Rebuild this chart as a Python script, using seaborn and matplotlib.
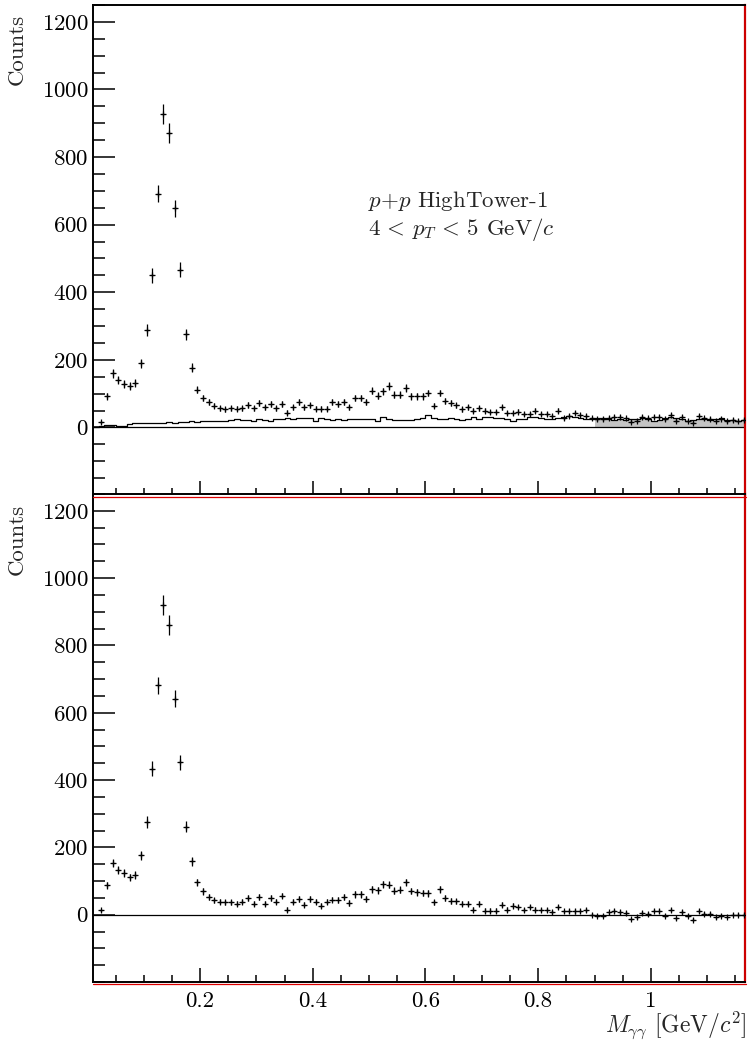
import numpy as np
import pandas as pd
import seaborn as sns
import matplotlib
matplotlib.use("Agg")
import matplotlib.pyplot as plt
from matplotlib.ticker import MultipleLocator, FixedLocator, FixedFormatter
from matplotlib.lines import Line2D

# ---------------- data ----------------
bin_first_lo = 0.02          # lower edge of first data bin (bin centre 0.025)
bin_width = 0.01
bkg_first_lo = 0.01          # lower edge of first background bin

# same-event counts (top panel), bins centred 0.025 ... 1.165
counts_raw = [15, 92, 160, 140, 129, 122, 132, 190, 288, 450,
              692, 928, 870, 648, 467, 276, 176, 112, 87, 74,
              64, 57, 54, 57, 55, 57, 67, 57, 72, 60,
              69, 57, 70, 44, 59, 74, 59, 65, 55, 55,
              55, 74, 70, 74, 60, 87, 87, 75, 109, 94,
              107, 122, 97, 97, 117, 92, 92, 92, 102, 64,
              102, 77, 72, 65, 54, 60, 49, 57, 49, 45,
              45, 59, 42, 42, 47, 39, 40, 50, 40, 40,
              34, 49, 27, 34, 42, 37, 34, 27, 24, 25,
              28, 30, 30, 27, 17, 20, 30, 27, 30, 30,
              24, 36, 20, 31, 20, 14, 33, 27, 26, 20,
              26, 18, 22, 20, 23]

# background-subtracted counts (bottom panel)
counts_sub = [13, 87, 154, 132, 124, 111, 118, 176, 275, 434,
              681, 920, 860, 642, 453, 261, 159, 96, 69, 53,
              43, 39, 37, 37, 33, 39, 50, 33, 53, 33,
              50, 38, 57, 15, 38, 47, 30, 47, 38, 27,
              38, 45, 43, 53, 35, 60, 60, 47, 76, 72,
              91, 89, 71, 74, 96, 71, 66, 64, 64, 37,
              76, 50, 40, 40, 33, 33, 15, 33, 12, 12,
              12, 30, 15, 27, 23, 15, 23, 15, 15, 15,
              9, 23, 10, 10, 10, 10, 13, 0, -3, -3,
              7, 10, 8, 5, -13, -7, 5, 2, 12, 10,
              -3, 15, -10, 7, -3, -15, 12, 3, 3, -7,
              -3, -7, 0, 0, 0]

# mixed-event background histogram (top panel), bins 0.01-0.02 ... 1.16-1.17
background = [2, 5, 7, 6, 4, 4, 10, 12, 13, 13,
              14, 14, 13, 15, 14, 15, 17, 18, 17, 18,
              19, 20, 19, 18, 22, 24, 21, 23, 20, 25,
              22, 20, 26, 25, 28, 26, 28, 29, 27, 20,
              27, 26, 22, 25, 21, 24, 26, 25, 25, 26,
              18, 30, 24, 22, 22, 22, 23, 26, 27, 36,
              28, 24, 25, 29, 25, 23, 26, 30, 26, 30,
              31, 29, 27, 24, 18, 24, 25, 30, 32, 28,
              26, 25, 28, 32, 33, 30, 28, 26, 24, 27,
              27, 25, 22, 24, 23, 24, 25, 27, 26, 19,
              22, 28, 30, 27, 25, 18, 22, 24, 25, 23,
              24, 29, 22, 22, 20, 23]

norm_region_lo = 0.9

y_ticks = [0, 200, 400, 600, 800, 1000, 1200]
x_ticks = [0.2, 0.4, 0.6, 0.8, 1.0]
x_tick_labels = ["0.2", "0.4", "0.6", "0.8", "1"]

# ---------------- derived tables ----------------
n_pts = len(counts_raw)
centers = np.round(bin_first_lo + bin_width * (np.arange(n_pts) + 0.5), 4)
df_pts = pd.DataFrame({"mass": centers,
                       "raw": counts_raw,
                       "sub": counts_sub})
df_pts["err_raw"] = np.sqrt(np.abs(df_pts["raw"]))
df_pts["err_sub"] = np.sqrt(np.abs(df_pts["raw"]))

n_bkg = len(background)
bkg_edges = np.round(bkg_first_lo + bin_width * np.arange(n_bkg + 1), 4)
bkg_centers = 0.5 * (bkg_edges[:-1] + bkg_edges[1:])
df_bkg = pd.DataFrame({"mass": bkg_centers, "bkg": background})
all_edges = [float(e) for e in bkg_edges]
norm_edges = [float(e) for e in bkg_edges if e >= norm_region_lo - 1e-9]

# ---------------- style ----------------
sns.set_theme(style="ticks")
plt.rcParams["font.family"] = ["cmr10", "DejaVu Serif"]
plt.rcParams["mathtext.fontset"] = "cm"
plt.rcParams["axes.unicode_minus"] = False
plt.rcParams["axes.formatter.use_mathtext"] = True
plt.rcParams["axes.edgecolor"] = "black"
plt.rcParams["xtick.color"] = "black"
plt.rcParams["ytick.color"] = "black"

FS = 16.5
W, H = 749, 1047
fig = plt.figure(figsize=(W / 100, H / 100), dpi=100)
fig.patch.set_facecolor("white")

ax1 = fig.add_axes([93 / W, 1 - 495 / H, 652 / W, 490 / H])
ax2 = fig.add_axes([93 / W, 1 - 982 / H, 652 / W, 488 / H])

# background: gray filled normalisation region, then outline
mask = df_bkg["mass"] > norm_region_lo
sns.histplot(data=df_bkg[mask], x="mass", weights="bkg",
             bins=norm_edges,
             element="step", fill=True, color="#c4c4c4", alpha=1.0,
             linewidth=0, ax=ax1)
sns.histplot(data=df_bkg, x="mass", weights="bkg", bins=all_edges,
             element="step", fill=False, color="black", linewidth=0.9,
             ax=ax1)

for ax, col, ecol in [(ax1, "raw", "err_raw"), (ax2, "sub", "err_sub")]:
    ax.axhline(0, color="black", lw=0.9, zorder=1)
    ax.errorbar(df_pts["mass"], df_pts[col], yerr=df_pts[ecol],
                xerr=0.0036, fmt="+", ms=4, mew=0.9, color="black",
                ecolor="black", elinewidth=0.9, capsize=0, zorder=3)
    ax.set_xlim(0.01, 1.167)
    ax.set_ylim(-200, 1250)
    ax.set_xlabel("")
    ax.set_ylabel("")
    ax.yaxis.set_major_locator(FixedLocator(y_ticks))
    ax.yaxis.set_minor_locator(MultipleLocator(50))
    ax.xaxis.set_major_locator(FixedLocator(x_ticks))
    ax.xaxis.set_major_formatter(FixedFormatter(x_tick_labels))
    ax.xaxis.set_minor_locator(MultipleLocator(0.05))
    ax.tick_params(axis="y", which="major", direction="in", length=16,
                   width=1.1, labelsize=FS, pad=3, right=False)
    ax.tick_params(axis="y", which="minor", direction="in", length=8.5,
                   width=1.1, right=False)
    ax.tick_params(axis="x", which="major", direction="in", length=10,
                   width=1.1, labelsize=FS, pad=7, top=False)
    ax.tick_params(axis="x", which="minor", direction="in", length=5,
                   width=1.1, top=False)
    for s in ["left", "top", "bottom"]:
        ax.spines[s].set_color("black")
        ax.spines[s].set_linewidth(1.4)
    ax.spines["right"].set_color("#cc0000")
    ax.spines["right"].set_linewidth(1.6)
    ax.set_facecolor("white")

ax1.tick_params(axis="x", labelbottom=False)

# red pad borders under the bottom axes lines
for ybot in [496.5, 983.5]:
    fig.add_artist(Line2D([93 / W, 746 / W], [1 - ybot / H, 1 - ybot / H],
                          transform=fig.transFigure, color="#dd0000", lw=0.9))

# axis titles
fig.text(17 / W, 1 - 14 / H, "Counts", rotation=90, ha="center", va="top",
         fontsize=FS)
fig.text(17 / W, 1 - 504 / H, "Counts", rotation=90, ha="center", va="top",
         fontsize=FS)
fig.text(747 / W, 1 - 1032 / H, r"$M_{\gamma\gamma}$ [GeV$/c^{2}$]",
         ha="right", va="baseline", fontsize=FS + 0.5)

# annotation
fig.text(368 / W, 1 - 207 / H, r"$p$+$p$ HighTower-1", ha="left",
         va="baseline", fontsize=FS)
fig.text(368 / W, 1 - 235 / H, r"$4\,<\,p_{T}\,<\,5$ GeV$/c$", ha="left",
         va="baseline", fontsize=FS)

fig.savefig("out.png", dpi=100, facecolor="white")
